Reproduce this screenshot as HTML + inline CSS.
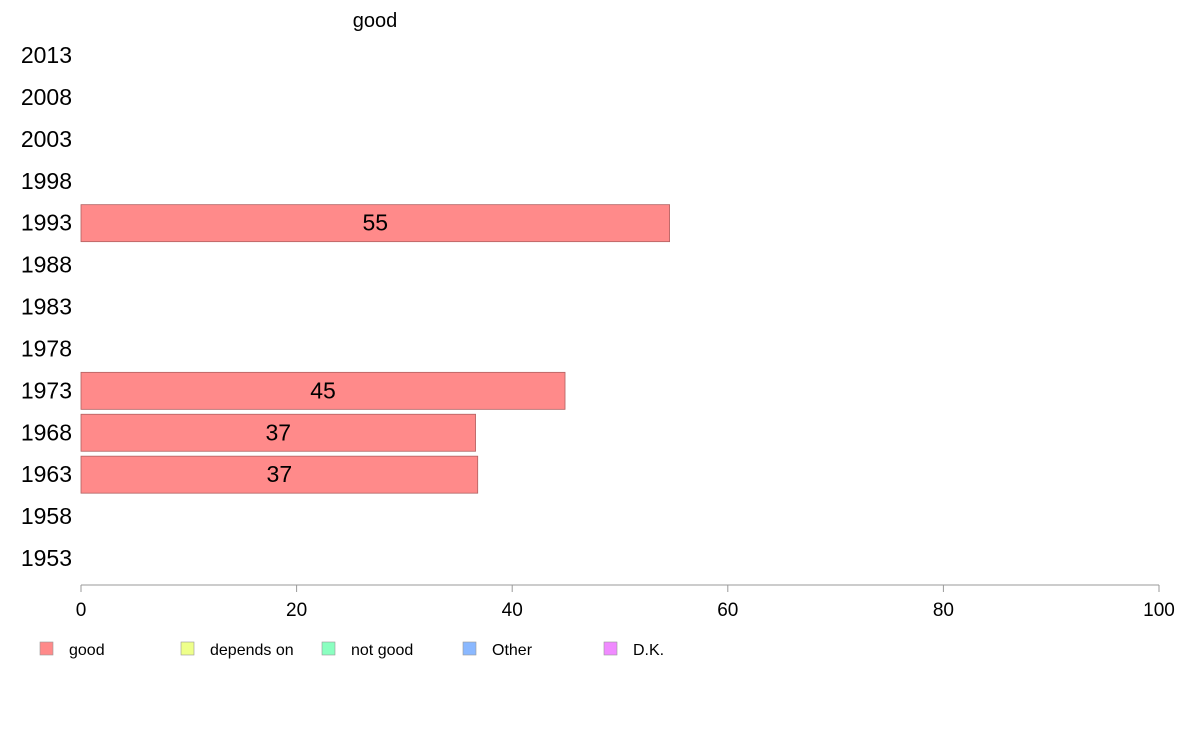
<!DOCTYPE html>
<html><head><meta charset="utf-8"><style>
body{margin:0;background:#fff;font-family:"Liberation Sans",Arial,sans-serif}
svg text{font-family:"Liberation Sans",Arial,sans-serif}
</style></head><body>
<svg id="chart" width="1188" height="736" xmlns="http://www.w3.org/2000/svg">
<text x="375" y="27" font-size="20" text-anchor="middle">good</text>
<g id="yaxis"></g>
<g id="bars"></g>
<g id="xaxis"></g>
<g id="legend"></g>
</svg>
<script>
const years = ["2013","2008","2003","1998","1993","1988","1983","1978","1973","1968","1963","1958","1953"];
const goodValues = [null,null,null,null,54.6,null,null,null,44.9,36.6,36.8,null,null];
const goodLabels = ["","","","","55","","","","45","37","37","",""];
const xTicks = [0,20,40,60,80,100];
const legendNames = ["good","depends on","not good","Other","D.K."];
const legendColors = ["#ff8a8a","#eeff8a","#8affc0","#8ab8ff","#f08aff"];

const NS="http://www.w3.org/2000/svg";
const x0=81,x1=1159;
const xs=v=>x0+(x1-x0)*v/100;
const yTop=55,yStep=(558-55)/(years.length-1);
const ys=i=>yTop+i*yStep;
function mk(t,a,p){const e=document.createElementNS(NS,t);for(const k in a)e.setAttribute(k,a[k]);p.appendChild(e);return e;}
const yg=document.getElementById('yaxis'),bg=document.getElementById('bars'),xg=document.getElementById('xaxis'),lg=document.getElementById('legend');
years.forEach((y,i)=>{
  const t=mk('text',{x:72,y:ys(i)+8,'font-size':23,'text-anchor':'end'},yg);
  
  
  t.textContent=y;
  const v=goodValues[i];
  if(v!=null){
    const r=mk('rect',{x:x0,y:ys(i)-18,width:xs(v)-x0,height:37,fill:'#ff8a8a',stroke:'#b06060','stroke-width':0.8},bg);
    
    
    const l=mk('text',{x:(x0+xs(v))/2,y:ys(i)+8,'font-size':23,'text-anchor':'middle'},bg);
    
    
    l.textContent=goodLabels[i];
  }
});
const axl=mk('line',{x1:x0,x2:x1,y1:585,y2:585,stroke:'#999','stroke-width':1},xg);


xTicks.forEach(v=>{
  const tk=mk('line',{x1:xs(v),x2:xs(v),y1:585,y2:592,stroke:'#999'},xg);
  
  
  const t=mk('text',{x:xs(v),y:616,'font-size':19,'text-anchor':'middle'},xg);
  
  
  t.textContent=v;
});
legendNames.forEach((n,i)=>{
  const lx=40+i*141;
  const r=mk('rect',{x:lx,y:642,width:13,height:13,fill:legendColors[i],stroke:'#999','stroke-width':0.6},lg);
  
  
  const t=mk('text',{x:lx+29,y:655,'font-size':16},lg);
  
  
  t.textContent=n;
});
</script>
</body></html>
